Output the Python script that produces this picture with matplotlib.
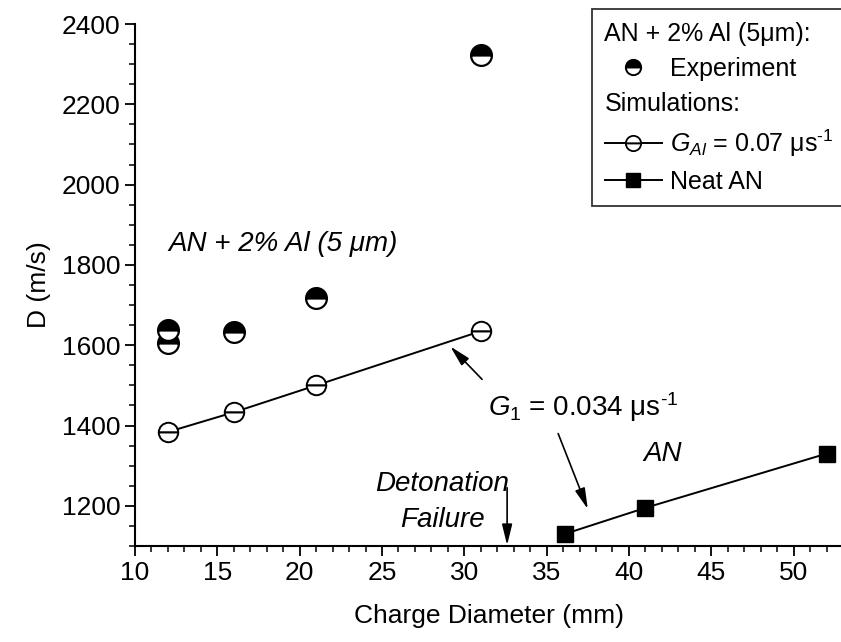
import numpy as np
import matplotlib
matplotlib.use("Agg")
from matplotlib import pyplot as plt
from matplotlib.lines import Line2D
from matplotlib.ticker import MultipleLocator

plt.rcParams['font.family'] = ['Liberation Sans', 'DejaVu Sans']
plt.rcParams['mathtext.fontset'] = 'custom'
plt.rcParams['mathtext.rm'] = 'Liberation Sans'
plt.rcParams['mathtext.it'] = 'Liberation Sans:italic'

# Experiment: AN + 2% Al (5 um)
exp_d = [12, 12, 16, 21, 31]
exp_D = [1638, 1605, 1633, 1718, 2322]

# Simulations with G_Al = 0.07
sim_d = [12, 16, 21, 31]
sim_D = [1384, 1433, 1500, 1635]

# Neat AN
an_d = [36.1, 41, 52]
an_D = [1130, 1195, 1330]

fig = plt.figure(figsize=(8.41, 6.42), dpi=100)
ax = fig.add_axes([135/841, 96/642, 708/841, 522/642])

ax.plot(exp_d, exp_D, ls="none", marker="o", ms=15, fillstyle="top",
        mfc="black", mfcalt="white", mec="black", mew=1.6)
ax.plot(sim_d, sim_D, color="black", lw=1.4, marker="o", ms=14,
        fillstyle="top", mfc="white", mfcalt="white", mec="black", mew=1.4)
ax.plot(an_d, an_D, color="black", lw=1.4, marker="s", ms=12,
        mfc="black", mec="black")

ax.set_xlim(10, 53)
ax.set_ylim(1100, 2400)
ax.xaxis.set_major_locator(MultipleLocator(5))
ax.xaxis.set_minor_locator(MultipleLocator(1))
ax.yaxis.set_major_locator(MultipleLocator(200))
ax.yaxis.set_minor_locator(MultipleLocator(50))
ax.spines["top"].set_visible(False)
ax.spines["right"].set_visible(False)
ax.spines["left"].set_linewidth(1.5)
ax.spines["bottom"].set_linewidth(1.5)
ax.tick_params(which="major", direction="out", length=7, width=1.3, labelsize=19)
ax.tick_params(which="minor", direction="out", length=4, width=1.1)

ax.set_xlabel("Charge Diameter (mm)", fontsize=19, labelpad=14)
ax.set_ylabel("D (m/s)", fontsize=19, labelpad=8)

# annotations
ax.text(12.0, 1852, "AN + 2% Al (5 μm)", fontsize=20, style="italic",
        ha="left", va="center")
ax.text(31.45, 1445, r"$\mathit{G}_{\mathit{1}}$ = 0.034 μs$^{\text{-1}}$",
        fontsize=20, ha="left", va="center")
ax.text(40.9, 1330, "AN", fontsize=20, style="italic", ha="left", va="center")
ax.text(28.65, 1210, "Detonation\nFailure", fontsize=20, style="italic",
        ha="center", va="center", linespacing=1.5)

arrow = dict(arrowstyle="-|>,head_length=0.9,head_width=0.22", color="black",
             lw=1.2, mutation_scale=14, shrinkA=0, shrinkB=0)
ax.annotate("", xy=(29.15, 1597), xytext=(31.08, 1515), arrowprops=arrow)
ax.annotate("", xy=(37.5, 1192), xytext=(35.7, 1380), arrowprops=arrow)
ax.annotate("", xy=(32.6, 1102), xytext=(32.6, 1245), arrowprops=arrow)

# legend
blank = Line2D([], [], ls="none")
h_exp = Line2D([], [], ls="none", marker="o", ms=11, fillstyle="top",
               mfc="black", mfcalt="white", mec="black", mew=1.4)
h_sim = Line2D([], [], color="black", lw=1.4, marker="o", ms=11,
               fillstyle="top", mfc="white", mfcalt="white", mec="black", mew=1.3)
h_an = Line2D([], [], color="black", lw=1.4, marker="s", ms=10, mfc="black")
handles = [blank, h_exp, blank, h_sim, h_an]
labels = ["AN + 2% Al (5μm):", "Experiment", "Simulations:",
          r"$\mathit{G}_{\mathit{Al}}$ = 0.07 μs$^{\text{-1}}$", "Neat AN"]
leg = fig.legend(handles, labels, loc="upper left",
                 bbox_to_anchor=(592/841, 1 - 9/642), fontsize=18,
                 frameon=True, fancybox=False, edgecolor="black",
                 handlelength=2.3, handletextpad=0.3, labelspacing=0.45,
                 borderpad=0.5, borderaxespad=0)
leg.get_frame().set_linewidth(1.3)
for hp in leg._legend_handle_box.get_children()[0].get_children():
    da, txt = hp.get_children()
    if txt.get_text().endswith(":"):
        da.set_width(0)
        hp.sep = 0

fig.savefig("out.png", dpi=100)
